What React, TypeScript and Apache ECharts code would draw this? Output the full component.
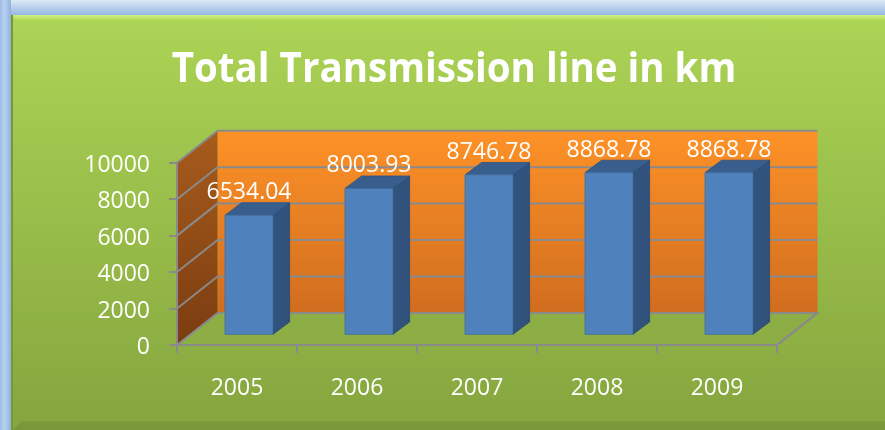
import React, { useEffect, useRef } from "react";
import * as echarts from "echarts";

const categories = ["2005", "2006", "2007", "2008", "2009"];
const values = [6534.04, 8003.93, 8746.78, 8868.78, 8868.78];
const valueLabels = ["6534.04", "8003.93", "8746.78", "8868.78", "8868.78"];
const yTicks = [0, 2000, 4000, 6000, 8000, 10000];
const titleText = "Total Transmission line in km";

const W = 885;
const H = 430;
const DEPTH_X = 40.5;
const DEPTH_Y = -32;
const GRID_COLOR = "#8a8a8a";
const LABEL_SIZE = 23;

export default function App() {
  const ref = useRef<HTMLDivElement>(null);
  useEffect(() => {
    if (!ref.current) return;
    const chart = echarts.init(ref.current, null, { renderer: "svg" });

    const wallsRender = (params: any, api: any) => {
      const cs = params.coordSys;
      const x0 = cs.x;
      const x1 = cs.x + cs.width;
      const yb = cs.y + cs.height;
      const yt = cs.y;
      const dx = DEPTH_X;
      const dy = DEPTH_Y;
      const children: any[] = [];
      children.push({
        type: "polygon",
        shape: { points: [[x0, yb], [x1, yb], [x1 + dx, yb + dy], [x0 + dx, yb + dy]] },
        style: { fill: "#8cae44", stroke: GRID_COLOR, lineWidth: 2 },
      });
      children.push({
        type: "rect",
        shape: { x: x0 + dx, y: yt + dy, width: x1 - x0, height: yb - yt },
        style: {
          fill: new echarts.graphic.LinearGradient(0, 0, 0, 1, [
            { offset: 0, color: "#fe9228" },
            { offset: 1, color: "#d06d1f" },
          ]),
        },
      });
      children.push({
        type: "polygon",
        shape: { points: [[x0, yb], [x0 + dx, yb + dy], [x0 + dx, yt + dy], [x0, yt]] },
        style: {
          fill: new echarts.graphic.LinearGradient(0, 0, 0, 1, [
            { offset: 0, color: "#a85c1c" },
            { offset: 1, color: "#7a3c11" },
          ]),
        },
      });
      yTicks.forEach((t) => {
        const y = api.coord([0, t])[1];
        children.push({
          type: "line",
          shape: { x1: x0 + dx, y1: y + dy, x2: x1 + dx, y2: y + dy },
          style: { stroke: GRID_COLOR, lineWidth: 2 },
        });
        children.push({
          type: "line",
          shape: { x1: x0, y1: y, x2: x0 + dx, y2: y + dy },
          style: { stroke: GRID_COLOR, lineWidth: 2 },
        });
      });
      children.push({
        type: "line",
        shape: { x1: x1, y1: yb, x2: x1 + dx, y2: yb + dy },
        style: { stroke: GRID_COLOR, lineWidth: 2 },
      });
      return { type: "group", children };
    };

    const barsRender = (params: any, api: any) => {
      const idx = api.value(0);
      const val = api.value(1);
      const top = api.coord([idx, val]);
      const base = api.coord([idx, 0]);
      const band = api.size([1, 0])[0];
      const w = band * 0.4;
      const fox = 12;
      const foy = -10.7;
      const bdx = 16.6;
      const bdy = -12.4;
      const xL = top[0] - w / 2 + fox;
      const xR = xL + w;
      const yT = top[1] + foy;
      const yB = base[1] + foy;
      return {
        type: "group",
        children: [
          {
            type: "polygon",
            shape: { points: [[xR, yT], [xR + bdx, yT + bdy], [xR + bdx, yB + bdy], [xR, yB]] },
            style: { fill: "#30527d", stroke: "#2a4870", lineWidth: 0.8 },
          },
          {
            type: "polygon",
            shape: { points: [[xL, yT], [xL + bdx, yT + bdy], [xR + bdx, yT + bdy], [xR, yT]] },
            style: { fill: "#385e8e", stroke: "#2f5080", lineWidth: 0.8 },
          },
          {
            type: "rect",
            shape: { x: xL, y: yT, width: w, height: yB - yT },
            style: { fill: "#4f81bd", stroke: "#416c9f", lineWidth: 0.8 },
          },
          {
            type: "text",
            x: (xL + xR) / 2,
            y: yT - 25,
            style: {
              text: valueLabels[idx],
              fill: "#ffffff",
              fontSize: LABEL_SIZE,
              fontFamily: "Open Sans",
              align: "center",
              verticalAlign: "middle",
              textAlign: "center",
              textVerticalAlign: "middle",
            },
          },
        ],
      };
    };

    const option: any = {
      animation: false,
      grid: { left: 177, right: 108, top: 162.7, bottom: 85, outerBoundsMode: "none" },
      graphic: [
        {
          type: "rect",
          z: -20,
          shape: { x: 0, y: 0, width: W, height: H },
          style: {
            fill: new echarts.graphic.LinearGradient(0, 0, 0, 1, [
              { offset: 0, color: "#dde9f6" },
              { offset: 0.035, color: "#94b8e2" },
              { offset: 1, color: "#9fc0ea" },
            ]),
          },
        },
        {
          type: "rect",
          z: -19,
          shape: { x: 0, y: 0, width: 11, height: H },
          style: {
            fill: new echarts.graphic.LinearGradient(0, 0, 1, 0, [
              { offset: 0, color: "#9dbde6" },
              { offset: 0.4, color: "#b9d0ee" },
              { offset: 1, color: "#8eb2df" },
            ]),
          },
        },
        {
          type: "rect",
          z: -18,
          shape: { x: 11, y: 15, width: W - 11, height: H - 15 },
          style: {
            fill: new echarts.graphic.LinearGradient(0, 0, 0, 1, [
              { offset: 0, color: "#acd455" },
              { offset: 1, color: "#85a53e" },
            ]),
          },
        },
        {
          type: "polygon",
          z: -17,
          shape: { points: [[11, 15], [W, 15], [W, 20], [16, 20]] },
          style: {
            fill: new echarts.graphic.LinearGradient(0, 0, 0, 1, [
              { offset: 0, color: "#d2ee86" },
              { offset: 1, color: "#b2da5a" },
            ]),
          },
        },
        {
          type: "rect",
          z: -17,
          shape: { x: 11, y: 15, width: 2, height: H - 15 },
          style: { fill: "#7a9832" },
        },
        {
          type: "polygon",
          z: -17,
          shape: { points: [[13, H], [W, H], [W, 421.5], [22, 421.5]] },
          style: { fill: "#7a983a" },
        },
        {
          type: "text",
          z: 10,
          x: 454,
          y: 66,
          scaleX: 0.94,
          style: {
            text: titleText,
            fill: "#ffffff",
            fontSize: 41,
            fontWeight: "bold",
            fontFamily: "Open Sans",
            align: "center",
            verticalAlign: "middle",
            textAlign: "center",
            textVerticalAlign: "middle",
          },
        },
      ],
      xAxis: {
        type: "category",
        data: categories,
        z: 5,
        axisLine: { show: true, lineStyle: { color: GRID_COLOR, width: 2 } },
        axisTick: { show: true, length: 8, lineStyle: { color: GRID_COLOR, width: 2 } },
        axisLabel: { color: "#ffffff", fontSize: LABEL_SIZE, fontFamily: "Open Sans", margin: 29 },
        splitLine: { show: false },
      },
      yAxis: {
        type: "value",
        min: 0,
        max: 10000,
        interval: 2000,
        z: 5,
        axisLine: { show: true, lineStyle: { color: GRID_COLOR, width: 2 } },
        axisTick: { show: true, length: 8, lineStyle: { color: GRID_COLOR, width: 2 } },
        axisLabel: {
          color: "#ffffff",
          fontSize: LABEL_SIZE,
          fontFamily: "Open Sans",
          margin: 27,
          formatter: (v: number) => String(v),
        },
        splitLine: { show: false },
      },
      series: [
        {
          type: "custom",
          z: 1,
          renderItem: wallsRender,
          data: [[0, 0]],
          silent: true,
        },
        {
          type: "custom",
          z: 3,
          renderItem: barsRender,
          data: values.map((v, i) => [i, v]),
          encode: { x: 0, y: 1 },
        },
      ],
    };
    chart.setOption(option);
    return () => chart.dispose();
  }, []);

  return (
    <div
      ref={ref}
      style={{ position: "fixed", left: 0, top: 0, width: W, height: H }}
    />
  );
}
